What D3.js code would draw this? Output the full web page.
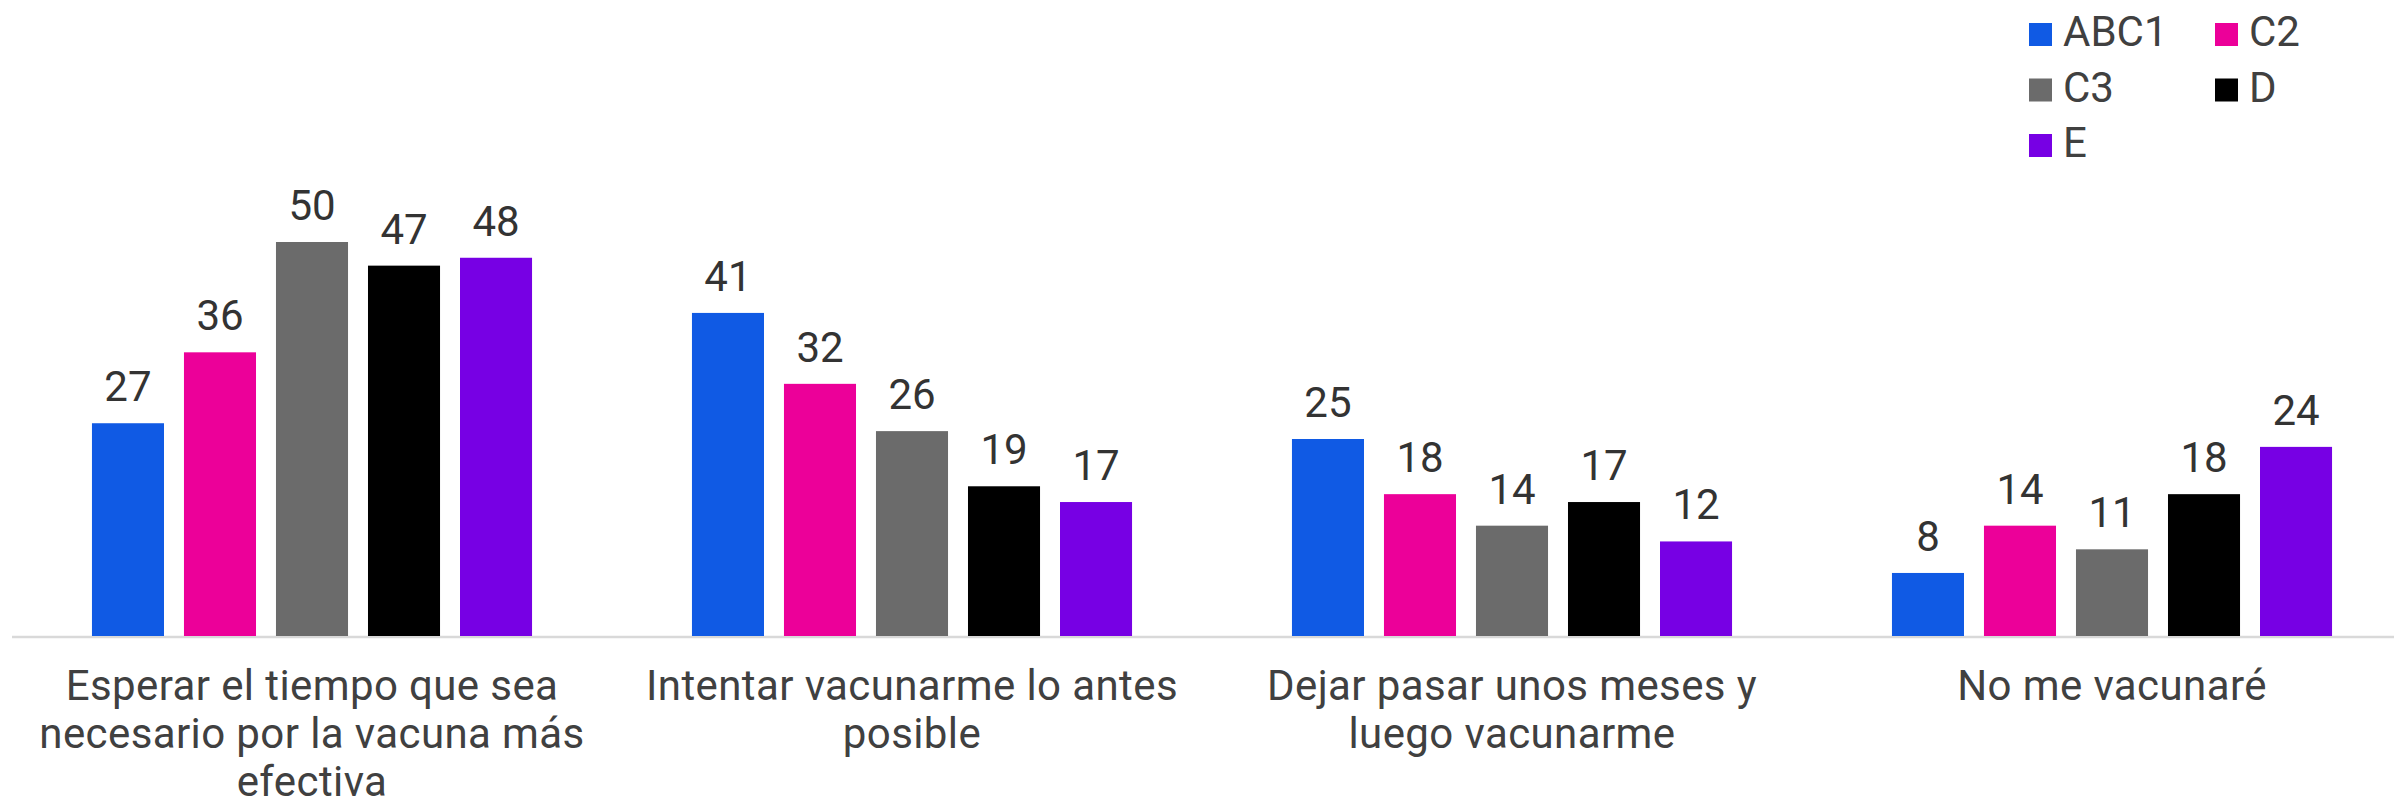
<!DOCTYPE html>
<html>
<head>
<meta charset="utf-8">
<script src="https://cdn.jsdelivr.net/npm/d3@7"></script>
<style>
  html, body { margin: 0; padding: 0; background: #fff; }
  text { font-family: Roboto, "Noto Sans", sans-serif; }
</style>
</head>
<body>
<div id="chart"></div>
<script>
// categories, each split into the lines the labels wrap to
var categories = [
  ["Esperar el tiempo que sea", "necesario por la vacuna más", "efectiva"],
  ["Intentar vacunarme lo antes", "posible"],
  ["Dejar pasar unos meses y", "luego vacunarme"],
  ["No me vacunaré"]
];
var series = ["ABC1", "C2", "C3", "D", "E"];
var colors = ["#105ae4", "#ec0099", "#6b6b6b", "#000000", "#7700e4"];

var abc1 = [27, 41, 25, 8];
var c2   = [36, 32, 18, 14];
var c3   = [50, 26, 14, 11];
var dd   = [47, 19, 17, 18];
var ee   = [48, 17, 12, 24];
var values = [abc1, c2, c3, dd, ee];

var width = 2394, height = 805;
var baseline = 636;

var svg = d3.select("#chart").append("svg")
  .attr("width", width)
  .attr("height", height);

var catKeys = categories.map(function(c, i) { return i; });

var x0 = d3.scaleBand()
  .domain(catKeys)
  .range([12, 2412])
  .padding(0);

var x1 = d3.scaleBand()
  .domain(series)
  .range([0, x0.bandwidth()])
  .paddingInner(0.217)
  .paddingOuter(0.869);

var y = d3.scaleLinear()
  .domain([0, 50])
  .range([baseline, baseline - 394]);

var color = d3.scaleOrdinal().domain(series).range(colors);

// flat list of bars
var bars = [];
series.forEach(function(s, si) {
  catKeys.forEach(function(ci) {
    bars.push({ cat: ci, series: s, value: values[si][ci] });
  });
});

// axis line
svg.append("line")
  .attr("x1", 12).attr("x2", width)
  .attr("y1", baseline + 1).attr("y2", baseline + 1)
  .attr("stroke", "#d9d9d9")
  .attr("stroke-width", 2.5);

var g = svg.append("g");

g.selectAll("rect")
  .data(bars)
  .enter().append("rect")
  .attr("x", function(d) { return x0(d.cat) + x1(d.series); })
  .attr("y", function(d) { return y(d.value); })
  .attr("width", x1.bandwidth())
  .attr("height", function(d) { return baseline - y(d.value); })
  .attr("fill", function(d) { return color(d.series); });

// value labels
g.selectAll("text.val")
  .data(bars)
  .enter().append("text")
  .attr("class", "val")
  .attr("x", function(d) { return x0(d.cat) + x1(d.series) + x1.bandwidth() / 2; })
  .attr("y", function(d) { return y(d.value) - 22; })
  .attr("text-anchor", "middle")
  .attr("font-size", "42px")
  .attr("fill", "#333333")
  .text(function(d) { return d.value; });

// category labels
var catLabel = svg.selectAll("text.cat")
  .data(catKeys)
  .enter().append("text")
  .attr("class", "cat")
  .attr("text-anchor", "middle")
  .attr("font-size", "42px")
  .attr("letter-spacing", "0.4px")
  .attr("fill", "#404040")
  .attr("x", function(d) { return x0(d) + x0.bandwidth() / 2; })
  .attr("y", 700);

catLabel.selectAll("tspan")
  .data(function(d) { return categories[d]; })
  .enter().append("tspan")
  .attr("x", function() { return d3.select(this.parentNode).attr("x"); })
  .attr("dy", function(d, i) { return i === 0 ? 0 : 48; })
  .text(function(d) { return d; });

// legend, two columns
var legend = svg.append("g")
  .selectAll("g")
  .data(series)
  .enter().append("g")
  .attr("transform", function(d, i) {
    var col = i % 2, row = Math.floor(i / 2);
    return "translate(" + (2029 + col * 186) + "," + (23 + row * 55.5) + ")";
  });

legend.append("rect")
  .attr("width", 23)
  .attr("height", 23)
  .attr("fill", function(d) { return color(d); });

legend.append("text")
  .attr("x", 34)
  .attr("y", 23)
  .attr("font-size", "42px")
  .attr("fill", "#404040")
  .text(function(d) { return d; });
</script>
</body>
</html>
